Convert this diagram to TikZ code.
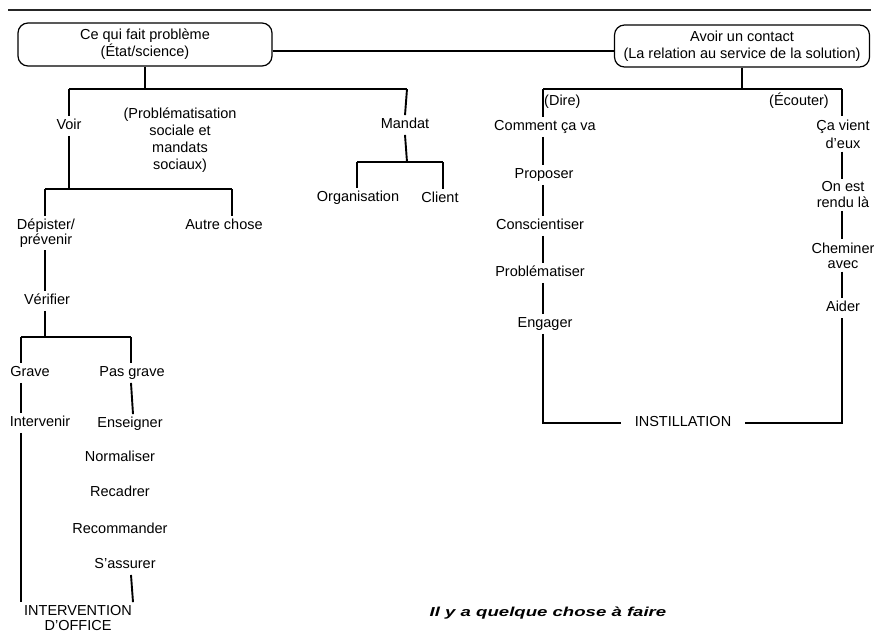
\documentclass[tikz,border=0pt]{standalone}
\usepackage{fontspec}
\usepackage{graphicx}
\setmainfont{Liberation Sans}
\begin{document}
\begin{tikzpicture}[x=1pt,y=-1pt,
  every node/.style={font=\fontsize{14.5}{17}\selectfont, inner sep=2pt, text=black},
  lbl/.style={text height=10.5pt, text depth=3pt, inner ysep=3pt},
  mlbl/.style={align=center, inner ysep=3pt},
  box/.style={draw, rounded corners=10pt, line width=1.2pt, align=center, minimum width=254pt, minimum height=43pt},
  conn/.style={line width=1.9pt}]
\useasboundingbox (0,0) rectangle (874,638);
% top rule
\draw[line width=2.6pt, black!85] (8,10) -- (871,10);

% top boxes
\node[box] (ce) at (145,44.5) {Ce qui fait problème\\(État/science)};
\node[box, minimum width=255pt, minimum height=42pt] (contact) at (742,46) {Avoir un contact\\(La relation au service de la solution)};
\coordinate (link) at (0,51);
\draw[conn, line width=1.5pt] (ce.east |- link) -- (contact.west |- link);

% ---------- left tree ----------
\coordinate (jL) at (69,89);
\coordinate (jR) at (407,89);
\draw[conn] (ce.south) -- (ce.south |- jL);
\draw[conn] (jL) -- (jR);
\node[lbl] (voir) at (69,126) {Voir};
\node[mlbl] (prob) at (180,140) {(Problématisation\\sociale et\\mandats\\sociaux)};
\node[lbl] (mandat) at (405,125) {Mandat};
\draw[conn] (jL) -- (voir.north);
\draw[conn] (jR) -- (mandat.north);

\coordinate (v2) at (69,189);
\coordinate (dL) at (45,189);
\coordinate (dR) at (232,189);
\draw[conn] (voir.south) -- (v2);
\draw[conn] (dL) -- (dR);
\node[mlbl, font=\fontsize{14.5}{14.5}\selectfont] (dep) at (46,233) {Dépister/\\prévenir};
\node[lbl] (autre) at (224,226) {Autre chose};
\draw[conn] (dL) -- (dep.north -| dL);
\draw[conn] (dR) -- (autre.north -| dR);

\node[lbl] (verif) at (47,301) {Vérifier};
\draw[conn] (dep.south -| dL) -- (verif.north -| dL);
\coordinate (gL) at (21,337);
\coordinate (gR) at (131,337);
\coordinate (vx) at (45,337);
\draw[conn] (verif.south -| dL) -- (vx);
\draw[conn] (gL) -- (gR);
\node[lbl] (grave) at (30,373) {Grave};
\node[lbl] (pasgrave) at (132,373) {Pas grave};
\draw[conn] (gL) -- (grave.north -| gL);
\draw[conn] (gR) -- (pasgrave.north -| gR);

\node[lbl] (interv) at (40,423) {Intervenir};
\node[lbl] (ens) at (130,424) {Enseigner};
\draw[conn] (grave.south -| gL) -- (interv.north -| gL);
\coordinate (gR2) at (133,0);
\draw[conn] (pasgrave.south -| gR) -- (ens.north -| gR2);
\node[lbl] (norm) at (120,458) {Normaliser};
\node[lbl] (recad) at (120,493) {Recadrer};
\node[lbl] (recom) at (120,530) {Recommander};
\node[lbl] (sass) at (125,565) {S’assurer};
\node[mlbl, font=\fontsize{14.5}{15}\selectfont] (office) at (78,618) {INTERVENTION\\D'OFFICE};
\draw[conn] (interv.south -| gL) -- (office.north -| gL);
\draw[conn] (sass.south -| gR) -- (office.north -| gR2);

% mandat subtree
\coordinate (mL) at (357,162);
\coordinate (mR) at (443,162);
\coordinate (mM) at (407,162);
\draw[conn] (mandat.south) -- (mM);
\draw[conn] (mL) -- (mR);
\node[lbl] (org) at (358,198) {Organisation};
\node[lbl] (client) at (440,199) {Client};
\draw[conn] (mL) -- (org.north -| mL);
\draw[conn] (mR) -- (client.north -| mR);

% ---------- right tree ----------
\coordinate (rL) at (543,89);
\coordinate (rR) at (842,89);
\draw[conn] (contact.south) -- (contact.south |- rL);
\draw[conn] (rL) -- (rR);
\node[lbl, anchor=west] (dire) at (542,102) {(Dire)};
\node[lbl] (ecouter) at (799,102) {(Écouter)};

\node[lbl] (comment) at (545,127) {Comment ça va};
\node[lbl] (proposer) at (544,175) {Proposer};
\node[lbl] (consc) at (540,226) {Conscientiser};
\node[lbl] (probl) at (540,273) {Problématiser};
\node[lbl] (engager) at (545,324) {Engager};
\draw[conn] (rL) -- (comment.north -| rL);
\draw[conn] (comment.south -| rL) -- (proposer.north -| rL);
\draw[conn] (proposer.south -| rL) -- (consc.north -| rL);
\draw[conn] (consc.south -| rL) -- (probl.north -| rL);
\draw[conn] (probl.south -| rL) -- (engager.north -| rL);

\node[mlbl, font=\fontsize{14.5}{18}\selectfont] (cavient) at (843,134) {Ça vient\\d’eux};
\node[mlbl, font=\fontsize{14.5}{16}\selectfont] (onest) at (843,195) {On est\\rendu là};
\node[mlbl, font=\fontsize{14.5}{15}\selectfont] (chem) at (843,255.5) {Cheminer\\avec};
\node[lbl] (aider) at (843,308) {Aider};
\draw[conn] (rR) -- (cavient.north -| rR);
\draw[conn] (cavient.south -| rR) -- (onest.north -| rR);
\draw[conn] (onest.south -| rR) -- (chem.north -| rR);
\draw[conn] (chem.south -| rR) -- (aider.north -| rR);

\node[lbl, inner xsep=14pt] (instill) at (683,423) {INSTILLATION};
\coordinate (bL) at (543,423);
\coordinate (bR) at (842,423);
\draw[conn] (engager.south -| rL) -- (bL) -- (instill.west);
\draw[conn] (instill.east) -- (bR) -- (aider.south -| rR);

% bottom caption
\node[font=\fontsize{13}{15}\selectfont\bfseries\itshape] (ilya) at (548,613) {\scalebox{1.43}[1]{Il y a quelque chose à faire}};
\end{tikzpicture}
\end{document}
